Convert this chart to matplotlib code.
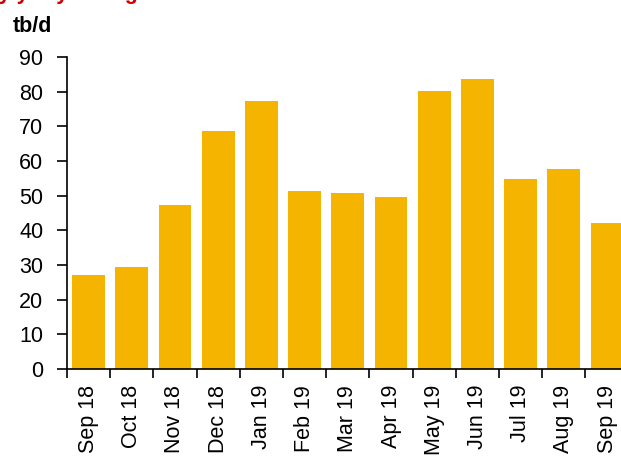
import matplotlib
matplotlib.use("Agg")
import matplotlib.pyplot as plt
import numpy as np

categories = ["Sep 18", "Oct 18", "Nov 18", "Dec 18", "Jan 19", "Feb 19", "Mar 19",
              "Apr 19", "May 19", "Jun 19", "Jul 19", "Aug 19", "Sep 19"]
values = [27.1, 29.4, 47.3, 68.6, 77.3, 51.3, 50.8, 49.6, 80.2, 83.6, 54.8, 57.7, 42.1]
y_ticks = [0, 10, 20, 30, 40, 50, 60, 70, 80, 90]
title = "Monthly y-o-y change"
unit = "tb/d"

plt.rcParams['font.family'] = ['Liberation Sans', 'DejaVu Sans']
FS = 15.5

fig = plt.figure(figsize=(6.21, 4.58), dpi=100)
ax = fig.add_axes([67/621, (458-369)/458, 561.6/621, (369-57)/458])

x = np.arange(len(categories))
ax.bar(x, values, width=0.76, color='#F4B400', zorder=2)

ax.set_xlim(-0.5, len(categories) - 0.5)
ax.set_ylim(0, 90)
ax.set_yticks(y_ticks)
ax.set_yticklabels([str(v) for v in y_ticks], fontsize=FS)
ax.tick_params(axis='y', length=7, width=1.2, pad=10, direction='out')

ax.set_xticks(x)
ax.set_xticklabels(categories, rotation=90, fontsize=FS, va='top', ha='center')
ax.tick_params(axis='x', which='major', length=0, pad=11.5)
ax.set_xticks(np.arange(len(categories) + 1) - 0.5, minor=True)
ax.tick_params(axis='x', which='minor', length=6.5, width=1.2, direction='out')

for s in ['top', 'right']:
    ax.spines[s].set_visible(False)
for s in ['left', 'bottom']:
    ax.spines[s].set_linewidth(1.2)

fig.text(13/621, 1 - 32/458, unit, fontsize=FS, fontweight='bold', ha='left', va='baseline')
fig.text(-72/621, 1 + 1.5/458, title, fontsize=FS, fontweight='bold', color='#D00000',
         ha='left', va='baseline')

fig.savefig("out.png", dpi=100)
